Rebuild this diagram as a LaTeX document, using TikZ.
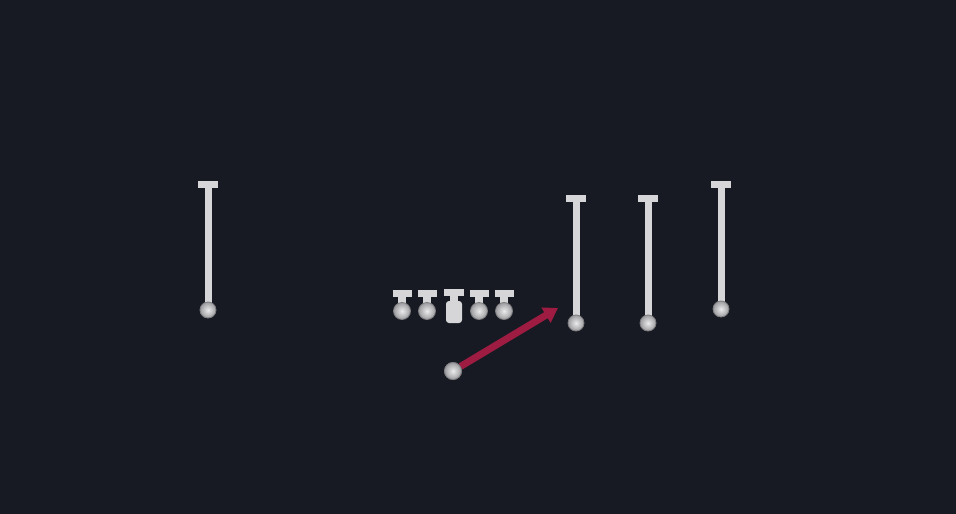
\documentclass[tikz,border=0pt]{standalone}
\usetikzlibrary{arrows.meta}
\definecolor{bg}{HTML}{171A23}
\definecolor{stemc}{HTML}{D6D6D8}
\definecolor{ballc}{HTML}{9C9CA0}
\definecolor{routec}{HTML}{9E1C42}
\tikzset{
  stemline/.style={draw=stemc, line width=7pt},
  tbar/.style={draw=stemc, line width=7pt},
  ball/.style={circle, inner sep=0pt, minimum size=16pt, draw=ballc!80!black, line width=0.8pt,
     inner color=white!80!ballc, outer color=ballc},
  route/.style={draw=routec, line width=7pt, -{Triangle[length=14pt,width=17pt]}},
}
\begin{document}
\begin{tikzpicture}[x=1pt,y=-1pt]
\fill[bg] (0,0) rectangle (956,514);
\useasboundingbox (0,0) rectangle (956,514);
% receivers: top of T, ball
\foreach \n/\x/\t/\b in {wa/208/184/310, wb/576/198/323, wc/648/198/323, wd/721/184/309}{
  \coordinate (\n top) at (\x,\t);
  \draw[stemline] (\n top) -- (\x,\b);
  \draw[tbar] ([xshift=-10pt]\n top) -- ([xshift=10pt]\n top);
  \node[ball] (\n) at (\x,\b) {};
}
% linemen
\foreach \n/\x in {la/402, lb/427, ld/479, le/504}{
  \coordinate (\n top) at (\x,293.5);
  \draw[stemline, line width=8pt] (\n top) -- (\x,311);
  \draw[tbar] ([xshift=-9.5pt]\n top) -- ([xshift=9.5pt]\n top);
  \node[ball, minimum size=17pt] (\n) at (\x,311) {};
}
% center
\coordinate (ctop) at (454,292.5);
\node[fill=stemc, minimum width=16pt, minimum height=22pt, inner sep=0pt,
      rounded corners=3pt] (c) at (454,312) {};
\draw[stemline, line width=8pt] (ctop) -- (c.north);
\draw[tbar] ([xshift=-10pt]ctop) -- ([xshift=10pt]ctop);
% quarterback and route
\coordinate (rend) at (558,308);
\node[ball, minimum size=17pt] (qb) at (453,371) {};
\draw[route] (qb) -- (rend);
\node[ball, minimum size=17pt] at (qb) {};
\end{tikzpicture}
\end{document}
